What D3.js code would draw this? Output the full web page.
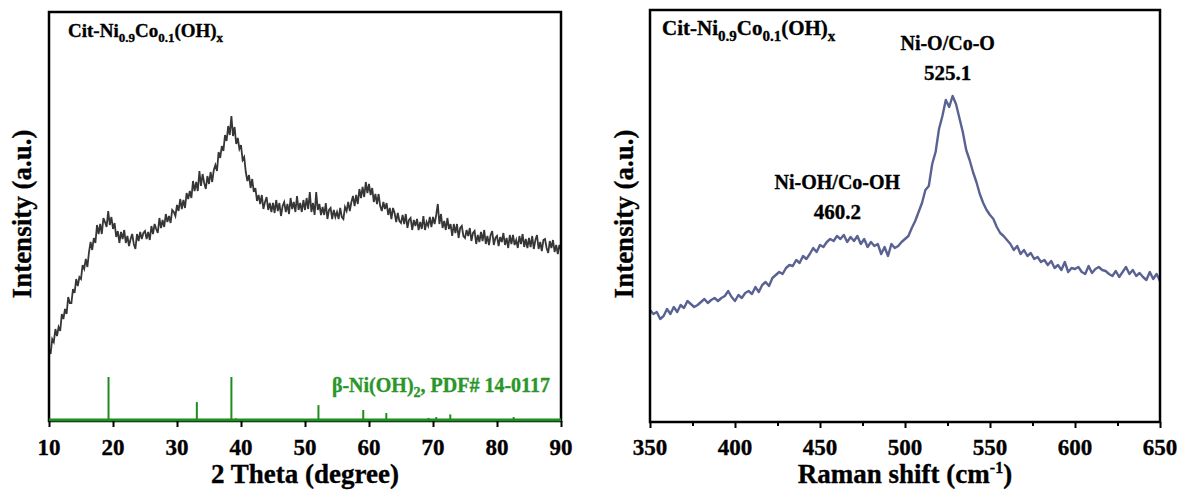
<!DOCTYPE html>
<html><head><meta charset="utf-8">
<script src="https://cdn.jsdelivr.net/npm/d3@7"></script>
<style>
html,body{margin:0;padding:0;background:#fff;}
svg text{font-family:"Liberation Serif","Times New Roman",serif;font-weight:bold;stroke:currentColor;stroke-width:0.35px;}
</style></head>
<body><svg id="c" width="1191" height="495"></svg>
<script>
// ---------- XRD (left) ----------
const xrdStart = 10, xrdStep = 0.25;
const xrdIntensity = [
72,67,82,79,92,85,94,90,107,102,112,107,124,118,118,132,128,142,135,144,
142,156,152,162,154,169,179,171,183,178,196,187,197,187,203,199,194,210,196,204,
192,198,184,190,178,189,182,191,178,185,175,182,187,177,172,187,180,189,182,188,
190,182,189,181,195,187,197,192,188,203,193,201,194,207,199,205,198,211,209,205,
216,210,222,212,221,213,228,222,230,223,240,230,239,230,250,235,247,238,232,245,
237,249,239,251,256,250,269,263,275,270,286,280,295,286,305,285,294,277,283,272,
276,261,264,249,240,246,233,242,229,233,220,226,217,226,212,219,224,211,218,209,
218,208,221,210,218,205,215,219,209,217,207,223,212,219,209,225,211,218,209,221,
211,223,212,229,209,218,206,229,211,217,206,214,206,218,202,211,213,202,211,204,
209,202,213,204,202,214,210,219,210,219,225,215,226,217,232,223,234,224,239,228,
237,226,233,219,227,217,227,215,210,219,212,218,206,213,202,213,208,199,208,200,
198,206,197,207,193,201,203,191,201,195,202,191,199,192,205,191,199,195,204,194,
204,197,206,217,197,207,193,200,191,203,192,197,185,197,188,197,183,193,195,185,
183,191,185,193,180,188,190,177,186,179,189,180,191,177,185,176,186,190,176,183,
185,175,184,179,188,176,183,173,186,177,186,176,181,173,185,177,187,174,182,173,
183,174,185,172,181,186,172,179,170,181,182,173,168,180,173,181,169,176,167,176,
171
];
const refAngles = [19.3, 33.1, 38.5, 39.2, 52.1, 59.1, 62.7, 69.3, 70.5, 72.7, 82.6];
const refIntensity = [100, 43, 100, 6, 36, 25, 18, 7, 9, 15, 9];
const xrdTicks = [10, 20, 30, 40, 50, 60, 70, 80, 90];

// ---------- Raman (right) ----------
const ramanStart = 350, ramanStep = 2;
const ramanIntensity = [
112,108,110,103,106,113,108,115,110,117,114,121,118,115,117,120,123,119,122,124,
121,124,126,131,125,121,127,124,129,131,128,135,130,137,140,136,144,147,150,148,
154,157,156,162,159,166,163,168,174,170,177,175,180,183,181,186,183,187,180,185,
181,186,178,183,175,180,176,178,168,175,166,178,174,176,180,183,186,194,201,210,
219,232,236,258,270,293,306,322,315,326,318,304,290,272,262,250,240,228,219,212,
207,203,195,189,186,182,178,172,176,168,172,166,169,163,165,160,162,157,161,154,
157,152,160,150,154,153,155,150,148,156,149,153,155,152,151,148,146,151,145,150,
155,148,152,146,149,145,142,150,143,148,141
];
const ramanTicks = [350, 400, 450, 500, 550, 600, 650];
const ramanMinor = [375, 425, 475, 525, 575, 625];

const svg = d3.select("#c");
const FS_TICK = 23, FS_TITLE = 27, TICK_BASE = 455;

function frame(g, x0, x1, y0, y1) {
  g.append("rect").attr("x", x0).attr("y", y0).attr("width", x1 - x0).attr("height", y1 - y0)
    .attr("fill", "none").attr("stroke", "#000").attr("stroke-width", 2.5);
}
// tick marks via d3 axis, labels as plain bold text placed with the same scale
function axisWithLabels(g, scale, y, ticks, minor) {
  const ag = g.append("g").attr("transform", `translate(0,${y})`)
    .call(d3.axisBottom(scale).tickValues(ticks).tickSize(6).tickFormat(""));
  ag.select(".domain").remove();
  ag.selectAll("line").attr("stroke", "#000").attr("stroke-width", 2);
  if (minor) {
    const mg = g.append("g").attr("transform", `translate(0,${y})`)
      .call(d3.axisBottom(scale).tickValues(minor).tickSize(4).tickFormat(""));
    mg.select(".domain").remove();
    mg.selectAll("line").attr("stroke", "#000").attr("stroke-width", 2);
  }
  g.selectAll(null).data(ticks).enter().append("text")
    .attr("x", d => scale(d)).attr("y", TICK_BASE).attr("text-anchor", "middle")
    .attr("font-size", FS_TICK).attr("fill", "#000").text(d => d3.format("d")(d));
}

// ===== Left panel =====
const L = {x0: 49, x1: 561, y0: 12, y1: 421};
const xL = d3.scaleLinear().domain([10, 90]).range([L.x0, L.x1]);
const yL = d3.scaleLinear().domain([0, 409]).range([L.y1, L.y0]);
const yRef = d3.scaleLinear().domain([0, 100]).range([L.y1, L.y1 - 44]);
const gL = svg.append("g");

const xrdData = xrdIntensity.map((v, i) => [xrdStart + i * xrdStep, v]);
gL.append("path").datum(xrdData)
  .attr("fill", "none").attr("stroke", "#363636").attr("stroke-width", 1.8)
  .attr("d", d3.line().x(d => xL(d[0])).y(d => yL(d[1])));

gL.selectAll("line.ref").data(refAngles).enter().append("line")
  .attr("x1", d => xL(d)).attr("x2", d => xL(d))
  .attr("y1", yRef(0)).attr("y2", (d, i) => yRef(refIntensity[i]))
  .attr("stroke", "#1f8c1f").attr("stroke-width", 2);

frame(gL, L.x0, L.x1, L.y0, L.y1);
gL.append("line").attr("x1", L.x0).attr("x2", L.x1).attr("y1", L.y1 - 1).attr("y2", L.y1 - 1)
  .attr("stroke", "#1f8c1f").attr("stroke-width", 3);

axisWithLabels(gL, xL, L.y1, xrdTicks, null);

gL.append("text").attr("x", (L.x0 + L.x1) / 2).attr("y", 483).attr("text-anchor", "middle")
  .attr("font-size", FS_TITLE).text("2 Theta (degree)");
gL.append("text").attr("transform", `translate(31,214) rotate(-90)`)
  .attr("text-anchor", "middle").attr("font-size", FS_TITLE).text("Intensity (a.u.)");

function sampleLabel(g, x, y, fs) {
  const sub = Math.round(fs * 0.7), dy = Math.round(fs * 0.27);
  const t = g.append("text").attr("x", x).attr("y", y).attr("font-size", fs);
  t.append("tspan").text("Cit-Ni");
  t.append("tspan").attr("font-size", sub).attr("dy", dy).text("0.9");
  t.append("tspan").attr("dy", -dy).text("Co");
  t.append("tspan").attr("font-size", sub).attr("dy", dy).text("0.1");
  t.append("tspan").attr("dy", -dy).text("(OH)");
  t.append("tspan").attr("font-size", sub).attr("dy", dy).text("x");
}
sampleLabel(gL, 68, 37, 19);

const gt = gL.append("text").attr("x", 550).attr("y", 392).attr("text-anchor", "end")
  .attr("font-size", 20).attr("fill", "#2a962a").style("color", "#2a962a");
gt.append("tspan").text("β-Ni(OH)");
gt.append("tspan").attr("font-size", 14).attr("dy", 5).text("2");
gt.append("tspan").attr("dy", -5).text(", PDF# 14-0117");

// ===== Right panel =====
const R = {x0: 650, x1: 1160, y0: 10, y1: 422};
const xR = d3.scaleLinear().domain([350, 650]).range([R.x0, R.x1]);
const yR = d3.scaleLinear().domain([0, 412]).range([R.y1, R.y0]);
const gR = svg.append("g");
const ramanData = ramanIntensity.map((v, i) => [ramanStart + i * ramanStep, v]);
gR.append("path").datum(ramanData)
  .attr("fill", "none").attr("stroke", "#5a6292").attr("stroke-width", 2.4)
  .attr("stroke-linejoin", "round")
  .attr("d", d3.line().x(d => xR(d[0])).y(d => yR(d[1])));
frame(gR, R.x0, R.x1, R.y0, R.y1);

axisWithLabels(gR, xR, R.y1, ramanTicks, ramanMinor);

const rt = gR.append("text").attr("x", (R.x0 + R.x1) / 2).attr("y", 483).attr("text-anchor", "middle")
  .attr("font-size", FS_TITLE);
rt.append("tspan").text("Raman shift (cm");
rt.append("tspan").attr("font-size", 16).attr("dy", -10).text("-1");
rt.append("tspan").attr("dy", 10).text(")");
gR.append("text").attr("transform", `translate(633,214) rotate(-90)`)
  .attr("text-anchor", "middle").attr("font-size", FS_TITLE).text("Intensity (a.u.)");

sampleLabel(gR, 662, 35, 21);
gR.append("text").attr("x", xR(525.1)).attr("y", 50).attr("text-anchor", "middle").attr("font-size", 20).text("Ni-O/Co-O");
gR.append("text").attr("x", xR(525.1)).attr("y", 80).attr("text-anchor", "middle").attr("font-size", 21).text("525.1");
gR.append("text").attr("x", xR(460.2)).attr("y", 189).attr("text-anchor", "middle").attr("font-size", 20).text("Ni-OH/Co-OH");
gR.append("text").attr("x", xR(460.2)).attr("y", 219).attr("text-anchor", "middle").attr("font-size", 21).text("460.2");
</script></body></html>
